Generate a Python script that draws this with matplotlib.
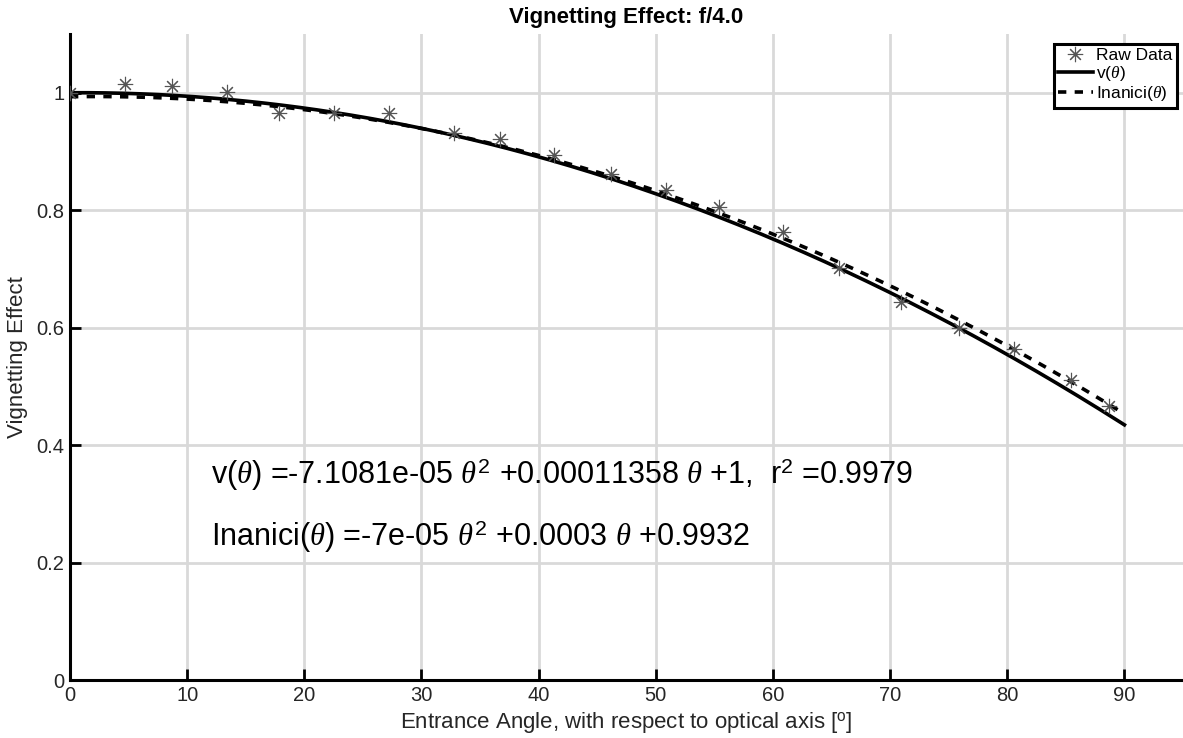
import numpy as np
import matplotlib
matplotlib.use("Agg")
import matplotlib.pyplot as plt

# Datos medidos (ángulo de entrada en grados, efecto de viñeteo)
raw_angles = [0, 4.7, 8.7, 13.4, 17.8, 22.5, 27.2, 32.8, 36.7, 41.3,
              46.2, 50.9, 55.4, 60.9, 65.6, 70.9, 75.9, 80.6, 85.4, 88.7]
raw_values = [1.0, 1.015, 1.012, 1.002, 0.966, 0.966, 0.966, 0.931, 0.922, 0.894,
              0.862, 0.835, 0.805, 0.763, 0.702, 0.644, 0.600, 0.563, 0.511, 0.466]

# Coeficientes de los ajustes (a*t^2 + b*t + c)
fit_coeffs = [-7.1081e-05, 0.00011358, 1.0]
inanici_coeffs = [-7e-05, 0.0003, 0.9932]
fit_range = [0, 90]

x_ticks = [0, 10, 20, 30, 40, 50, 60, 70, 80, 90]
y_ticks = [0, 0.2, 0.4, 0.6, 0.8, 1.0]
y_tick_labels = ["0", "0.2", "0.4", "0.6", "0.8", "1"]

# Estilo general
plt.rcParams["font.family"] = ["Liberation Sans", "DejaVu Sans"]
plt.rcParams["mathtext.fontset"] = "custom"
plt.rcParams["mathtext.rm"] = "Liberation Sans"
plt.rcParams["mathtext.it"] = "Liberation Serif:italic"
plt.rcParams["lines.scale_dashes"] = False

fig = plt.figure(figsize=(11.83, 7.38), dpi=100)
ax = fig.add_axes([70 / 1183, 58 / 738, 1113 / 1183, 646 / 738])

theta = np.linspace(fit_range[0], fit_range[1], 300)
v_fit = np.polyval(fit_coeffs, theta)
v_inanici = np.polyval(inanici_coeffs, theta)

ax.plot(raw_angles, raw_values, linestyle="none", marker=(8, 2, 0),
        markersize=11, markeredgewidth=0.8, color="#555555",
        label="Raw Data", zorder=4)
ax.plot(theta, v_fit, color="black", linewidth=2.6,
        label=r"v($\theta$)", zorder=3)
ax.plot(theta, v_inanici, color="black", linewidth=2.6, dashes=(6, 6),
        label=r"Inanici($\theta$)", zorder=3)

# Ecuaciones
ax.text(12.0, 0.349,
        r"v($\theta$) =-7.1081e-05 $\theta^2$ +0.00011358 $\theta$ +1,  r$^2$ =0.9979",
        fontsize=22, va="center", ha="left")
ax.text(12.0, 0.244,
        r"Inanici($\theta$) =-7e-05 $\theta^2$ +0.0003 $\theta$ +0.9932",
        fontsize=22, va="center", ha="left")

ax.set_xlim(0, 95)
ax.set_ylim(0, 1.1)
ax.set_xticks(x_ticks)
ax.set_yticks(y_ticks)
ax.set_yticklabels(y_tick_labels)

ax.grid(True, color="#d9d9d9", linewidth=2)
ax.set_axisbelow(True)
for side in ["top", "right"]:
    ax.spines[side].set_visible(False)
for side in ["left", "bottom"]:
    ax.spines[side].set_linewidth(2.2)
ax.tick_params(direction="in", length=8, width=2, labelsize=14.5,
               labelcolor="#262626", pad=4)

ax.set_xlabel(r"Entrance Angle, with respect to optical axis [$^{\mathrm{o}}$]",
              fontsize=16, color="#262626", labelpad=4)
ax.set_ylabel("Vignetting Effect", fontsize=16, color="#262626", labelpad=6)
ax.set_title("Vignetting Effect: f/4.0", fontsize=16, fontweight="bold", pad=8)

leg = ax.legend(loc="upper right", bbox_to_anchor=(1 - 6 / 1113, 1 - 10 / 646),
                borderaxespad=0, fontsize=12.5, fancybox=False, framealpha=1,
                edgecolor="black", handlelength=2.0, handletextpad=0.2,
                labelspacing=0.05, borderpad=0.25)
leg.get_frame().set_linewidth(2.2)

fig.savefig("out.png", dpi=100)
